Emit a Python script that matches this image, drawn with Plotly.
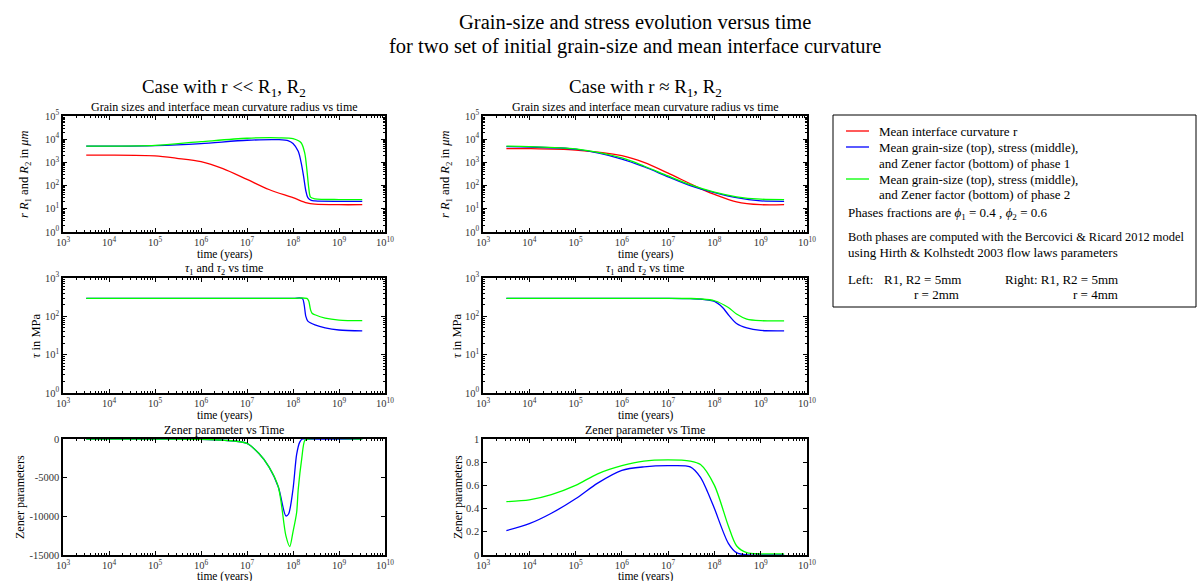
import plotly.graph_objects as go

W, H = 1197, 581
RED, BLUE, GREEN = "#ff0000", "#0000ff", "#00ff00"
FONT = "Liberation Serif"

# ---------------- data ----------------
# Left column: r << R1, R2  (R1,R2 = 5mm, r = 2mm)
gsL_red_t = [3.2e3, 1e4, 1e5, 3e5, 1e6, 3e6, 1e7, 3e7, 1e8, 2e8, 3e8, 1e9, 3.2e9]
gsL_red_v = [2050, 2050, 1900, 1500, 1080, 540, 185, 68, 30, 18, 16, 15, 15]
gsL_blue_t = [3.2e3, 1e4, 1e5, 1e6, 1e7, 5e7, 8e7, 1e8, 1.3e8, 1.5e8, 1.7e8, 1.9e8, 2.1e8, 2.5e8, 3e8, 1e9, 3.2e9]
gsL_blue_v = [5000, 5000, 5300, 6500, 9000, 9500, 8500, 6500, 3000, 1000, 250, 60, 30, 23, 22, 21, 21]
gsL_green_t = [3.2e3, 1e4, 1e5, 1e6, 1e7, 5e7, 1e8, 1.5e8, 1.8e8, 2e8, 2.2e8, 2.4e8, 3e8, 1e9, 3.2e9]
gsL_green_v = [5000, 5000, 5400, 7800, 11000, 11500, 10500, 7000, 2500, 500, 80, 32, 27, 25, 25]

tauL_blue_t = [3.2e3, 1e6, 1e8, 1.6e8, 1.75e8, 1.9e8, 2.1e8, 3e8, 5e8, 1e9, 3.2e9]
tauL_blue_v = [295, 295, 295, 293, 200, 100, 75, 60, 50, 44, 42]
tauL_green_t = [3.2e3, 1e6, 1e8, 2e8, 2.2e8, 2.4e8, 2.6e8, 3e8, 5e8, 1e9, 3.2e9]
tauL_green_v = [295, 295, 295, 293, 250, 150, 120, 110, 90, 80, 77]

zL_blue_t = [3.2e3, 1e5, 1e6, 3e6, 1e7, 1.8e7, 3e7, 4.8e7, 7e7, 8e7, 1e8, 1.2e8, 1.4e8, 1.6e8, 2e8, 3.2e9]
zL_blue_v = [0, 0, -30, -150, -560, -1850, -3600, -6200, -9950, -9700, -6500, -2000, -400, 0, 0, 0]
zL_green_t = [3.2e3, 1e5, 1e6, 3e6, 1e7, 1.8e7, 3e7, 4.8e7, 7e7, 8.5e7, 1e8, 1.2e8, 1.3e8, 1.55e8, 1.8e8, 2.1e8, 3.2e9]
zL_green_v = [0, 0, -30, -150, -560, -1850, -3600, -6200, -12500, -13900, -12000, -9500, -6500, -2500, -200, 0, 0]

# Right column: r ~ R1, R2  (R1,R2 = 5mm, r = 4mm)
gsR_red_t = [3.2e3, 1e4, 1e5, 1e6, 3e6, 1e7, 3e7, 7e7, 1e8, 3e8, 1e9, 3.2e9]
gsR_red_v = [3900, 3900, 3400, 1950, 1000, 345, 120, 55, 42, 20, 15, 15]
gsR_blue_t = [3.2e3, 1e4, 1e5, 1e6, 3e6, 1e7, 3e7, 1e8, 3e8, 1e9, 3.2e9]
gsR_blue_v = [4800, 4600, 3700, 1400, 650, 240, 100, 50, 30, 22, 21]
gsR_green_t = [3.2e3, 1e4, 1e5, 1e6, 3e6, 1e7, 3e7, 1e8, 3e8, 1e9, 3.2e9]
gsR_green_v = [5000, 4800, 3800, 1550, 700, 260, 110, 52, 33, 26, 25]

tauR_blue_t = [3.2e3, 1e6, 1e7, 3e7, 5e7, 1e8, 1.5e8, 2e8, 3e8, 5e8, 1e9, 3.2e9]
tauR_blue_v = [295, 295, 295, 290, 280, 245, 170, 110, 65, 50, 43, 42]
tauR_green_t = [3.2e3, 1e6, 1e7, 3e7, 5e7, 1e8, 2e8, 3e8, 5e8, 1e9, 3.2e9]
tauR_green_v = [295, 295, 295, 292, 285, 255, 170, 115, 85, 77, 76]

zR_blue_t = [3.2e3, 1e4, 3e4, 1e5, 3e5, 1e6, 3e6, 1e7, 3e7, 5e7, 7e7, 1e8, 2e8, 3e8, 5e8, 1e9, 3.2e9]
zR_blue_v = [0.21, 0.27, 0.36, 0.485, 0.62, 0.73, 0.76, 0.77, 0.76, 0.67, 0.55, 0.40, 0.10, 0.02, 0.0, 0.0, 0.0]
zR_green_t = [3.2e3, 1e4, 3e4, 1e5, 3e5, 1e6, 3e6, 1e7, 3e7, 5e7, 1e8, 2e8, 3e8, 5e8, 1e9, 3.2e9]
zR_green_v = [0.46, 0.475, 0.52, 0.60, 0.70, 0.77, 0.81, 0.82, 0.81, 0.78, 0.60, 0.25, 0.08, 0.02, 0.01, 0.01]

x_tickvals = [10 ** k for k in range(3, 11)]
x_ticktext = ["10<sup>%d</sup>" % k for k in range(3, 11)]

# ---------------- figure ----------------
fig = go.Figure()

def px(x):
    return x / W

def py(y):
    return 1 - y / H

def add(t, v, color, n):
    fig.add_trace(go.Scatter(
        x=t, y=v, mode="lines", line=dict(color=color, width=1.3, shape="spline", smoothing=0.8),
        xaxis="x%d" % n, yaxis="y%d" % n, showlegend=False, hoverinfo="skip"))

add(gsL_red_t, gsL_red_v, RED, 1)
add(gsL_blue_t, gsL_blue_v, BLUE, 1)
add(gsL_green_t, gsL_green_v, GREEN, 1)
add(gsR_red_t, gsR_red_v, RED, 2)
add(gsR_blue_t, gsR_blue_v, BLUE, 2)
add(gsR_green_t, gsR_green_v, GREEN, 2)
add(tauL_blue_t, tauL_blue_v, BLUE, 3)
add(tauL_green_t, tauL_green_v, GREEN, 3)
add(tauR_blue_t, tauR_blue_v, BLUE, 4)
add(tauR_green_t, tauR_green_v, GREEN, 4)
add(zL_blue_t, zL_blue_v, BLUE, 5)
add(zL_green_t, zL_green_v, GREEN, 5)
add(zR_blue_t, zR_blue_v, BLUE, 6)
add(zR_green_t, zR_green_v, GREEN, 6)

tickfont = dict(family=FONT, size=10.5, color="#333333")
common = dict(showline=True, linecolor="black", linewidth=1.5, mirror="allticks",
              ticks="inside", ticklen=4, tickcolor="black", showgrid=False, zeroline=False,
              tickfont=tickfont, automargin=False)
minor_log = dict(ticks="inside", ticklen=2, tickcolor="black", dtick="D1", showgrid=False)

xdom = {"L": [px(63), px(385)], "R": [px(483), px(807)]}
ydom = {1: [py(232), py(116)], 2: [py(393), py(278)], 3: [py(555), py(439)]}

layout = {}
for n in range(1, 7):
    col = "L" if n % 2 == 1 else "R"
    row = (n + 1) // 2
    xa = dict(common, type="log", range=[3, 10], tickmode="array", tickvals=x_tickvals,
              ticktext=x_ticktext, domain=xdom[col], anchor="y%d" % n, minor=minor_log)
    if row == 1:
        ya = dict(common, type="log", range=[0, 5], tickmode="array",
                  tickvals=[10 ** k for k in range(0, 6)],
                  ticktext=["10<sup>%d</sup>" % k for k in range(0, 6)], minor=minor_log)
    elif row == 2:
        ya = dict(common, type="log", range=[0, 3], tickmode="array",
                  tickvals=[10 ** k for k in range(0, 4)],
                  ticktext=["10<sup>%d</sup>" % k for k in range(0, 4)], minor=minor_log)
    else:
        if col == "L":
            ya = dict(common, type="linear", range=[-15000, 0], tickmode="array",
                      tickvals=[-15000, -10000, -5000, 0],
                      ticktext=["-15000", "-10000", "-5000", "0"])
        else:
            ya = dict(common, type="linear", range=[0, 1], tickmode="array",
                      tickvals=[0, 0.2, 0.4, 0.6, 0.8, 1],
                      ticktext=["0", "0.2", "0.4", "0.6", "0.8", "1"])
    ya.update(domain=ydom[row], anchor="x%d" % n)
    key = "" if n == 1 else str(n)
    layout["xaxis" + key] = xa
    layout["yaxis" + key] = ya

fig.update_layout(**layout)

annotations = []

def text(x, y, s, size=11, xanchor="center", angle=0):
    annotations.append(dict(x=px(x), y=py(y), xref="paper", yref="paper", text=s,
                            showarrow=False, xanchor=xanchor, yanchor="middle",
                            textangle=angle, font=dict(family=FONT, size=size, color="black")))

# main title
text(635, 22, "Grain-size and stress evolution versus time", size=20.5)
text(635, 46, "for two set of initial grain-size and mean interface curvature", size=20.5)
# column titles
text(224, 88, "Case with r &lt;&lt; R<sub>1</sub>, R<sub>2</sub>", size=18.8)
text(645, 88, "Case with r ≈ R<sub>1</sub>, R<sub>2</sub>", size=18.8)
# panel titles
for cx in (224, 645):
    text(cx, 107, "Grain sizes and interface mean curvature radius vs time", size=12)
    text(cx, 269, "<i>τ</i><sub>1</sub> and <i>τ</i><sub>2</sub> vs time", size=12)
    text(cx, 430, "Zener parameter vs Time", size=12)
    text(cx, 254, "time (years)", size=11.5)
    text(cx, 415, "time (years)", size=11.5)
    text(cx, 576, "time (years)", size=11.5)
# y titles
text(25, 174, "<i>r R</i><sub>1</sub> and <i>R</i><sub>2</sub> in <i>μm</i>", size=12.5, angle=-90)
text(446, 174, "<i>r R</i><sub>1</sub> and <i>R</i><sub>2</sub> in <i>μm</i>", size=12.5, angle=-90)
text(36, 336, "<i>τ</i> in MPa", size=12.5, angle=-90)
text(457, 336, "<i>τ</i> in MPa", size=12.5, angle=-90)
text(20, 497, "Zener parameters", size=12, angle=-90)
text(458, 497, "Zener parameters", size=12, angle=-90)

# legend box content
LS = 13
text(877, 131, "Mean interface curvature r", size=LS, xanchor="left")
text(877, 147, "Mean grain-size (top), stress (middle),", size=LS, xanchor="left")
text(877, 163, "and Zener factor (bottom) of phase 1", size=LS, xanchor="left")
text(877, 179, "Mean grain-size (top), stress (middle),", size=LS, xanchor="left")
text(877, 194, "and Zener factor (bottom) of phase 2", size=LS, xanchor="left")
text(846, 214, "Phases fractions are <i>ϕ</i><sub>1</sub> = 0.4 , <i>ϕ</i><sub>2</sub> = 0.6", size=LS, xanchor="left")
text(846, 237, "Both phases are computed with the Bercovici &amp; Ricard 2012 model", size=12.4, xanchor="left")
text(846, 252, "using Hirth &amp; Kolhstedt 2003 flow laws parameters", size=LS, xanchor="left")
text(846, 279, "Left:", size=LS, xanchor="left")
text(882, 279, "R1, R2 = 5mm", size=LS, xanchor="left")
text(912, 294, "r = 2mm", size=LS, xanchor="left")
text(1003, 279, "Right: R1, R2 = 5mm", size=LS, xanchor="left")
text(1071, 294, "r = 4mm", size=LS, xanchor="left")

shapes = [
    dict(type="rect", xref="paper", yref="paper", x0=px(833), x1=px(1196), y0=py(307), y1=py(115),
         line=dict(color="black", width=1)),
]
for yy, c in ((131, RED), (147, BLUE), (179, GREEN)):
    shapes.append(dict(type="line", xref="paper", yref="paper", x0=px(846), x1=px(869),
                       y0=py(yy), y1=py(yy), line=dict(color=c, width=1.3)))

fig.update_layout(width=W, height=H, margin=dict(l=0, r=0, t=0, b=0, autoexpand=False),
                  paper_bgcolor="white", plot_bgcolor="white",
                  annotations=annotations, shapes=shapes,
                  font=dict(family=FONT, size=11, color="black"))

fig.write_html("out.html", config={"displayModeBar": False},
               post_script="document.body.style.margin='0';document.body.style.overflow='hidden';")
